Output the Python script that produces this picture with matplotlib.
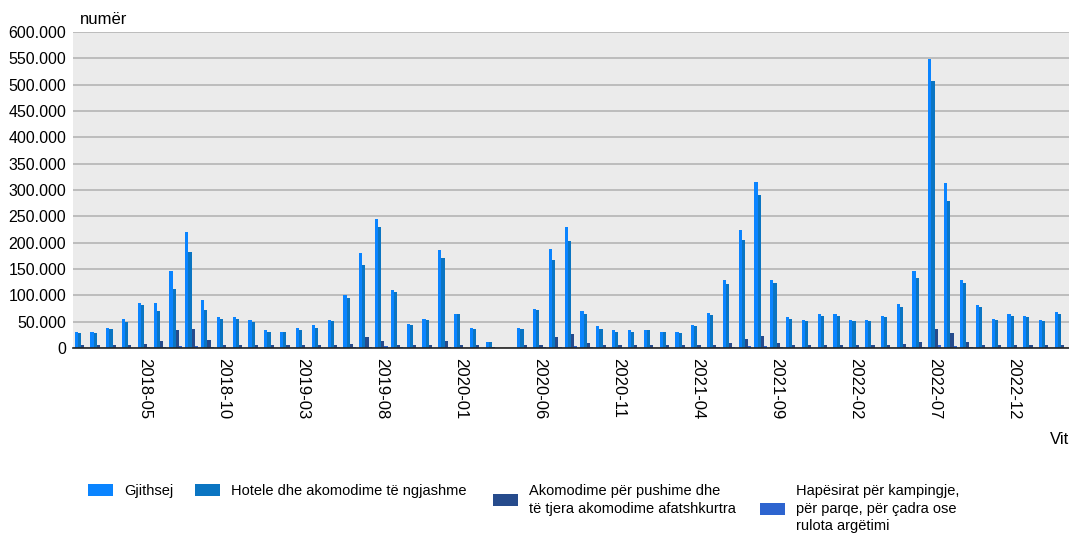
import numpy as np
import matplotlib.pyplot as plt
from matplotlib.patches import Patch
from matplotlib.ticker import FuncFormatter

# muajt 2018-01 .. 2023-03
months = [f"{y}-{m:02d}" for y in range(2018, 2024) for m in range(1, 13)][:63]

gjithsej = [31000, 31000, 38600, 55700, 85500, 85500, 145600, 220000, 90500, 58000, 58000, 53000,
            33500, 31000, 38600, 43700, 53000, 100000, 180000, 245000, 110800, 45600, 55700, 185500,
            64000, 38000, 10800, 0, 38000, 75000, 188000, 230000, 70900, 41000, 33500, 33500,
            33500, 31000, 31000, 43700, 65800, 128500, 223500, 315000, 130000, 58000, 53000, 64000,
            64000, 53000, 53000, 60800, 83000, 145600, 548000, 312700, 130000, 81000, 55700, 64000,
            60800, 53000, 68400]
hotele = [28500, 28500, 36000, 50000, 81000, 70000, 112700, 182000, 72800, 55000, 55700, 50000,
          31000, 31000, 33500, 38600, 50600, 95600, 157600, 230000, 105700, 43700, 53000, 170000,
          64000, 35500, 10800, 0, 35500, 72800, 168000, 202600, 64000, 36000, 31000, 31000,
          33500, 31000, 28500, 41000, 63300, 121000, 205700, 290000, 122800, 55700, 50600, 60800,
          60800, 50600, 50600, 58000, 78000, 133000, 507000, 280000, 122800, 78000, 53000, 60800,
          58000, 50600, 64000]
akomodime = [5000, 5000, 5000, 5000, 7600, 13000, 33500, 35500, 15800, 5000, 5000, 5000,
             5000, 5000, 5000, 5000, 5000, 8000, 21000, 13000, 5000, 5000, 5000, 13000,
             5000, 5000, 2000, 0, 5000, 6000, 21000, 26600, 9000, 5000, 5000, 5000,
             5000, 5000, 5000, 5000, 5000, 9000, 18000, 23000, 9000, 5000, 5000, 5000,
             5000, 5000, 5000, 5000, 7000, 10800, 35500, 28500, 10800, 5000, 5000, 5000,
             5000, 5000, 5000]
kampingje = [800, 800, 800, 800, 1200, 2000, 3000, 3500, 1500, 800, 800, 800,
             800, 800, 800, 800, 1000, 1500, 2500, 3000, 1200, 800, 800, 1000,
             800, 800, 300, 0, 800, 1200, 2500, 3000, 1200, 800, 800, 800,
             800, 800, 800, 800, 1000, 1800, 3000, 3500, 1500, 800, 800, 800,
             800, 800, 800, 800, 1200, 2000, 5000, 4000, 1500, 800, 800, 800,
             800, 800, 800]

series = [gjithsej, hotele, akomodime, kampingje]
labels = ["Gjithsej", "Hotele dhe akomodime të ngjashme",
          "Akomodime për pushime dhe\ntë tjera akomodime afatshkurtra",
          "Hapësirat për kampingje,\npër parqe, për çadra ose\nrulota argëtimi"]
colors = ["#0A84FF", "#0B75C2", "#264B8C", "#2D64CF"]

plt.rcParams['font.family'] = ['Liberation Sans', 'DejaVu Sans']

fig = plt.figure(figsize=(10.69, 5.35), dpi=100)
ax = fig.add_axes([73 / 1069, 1 - 348 / 535, 1 - 73 / 1069, 316 / 535])
ax.set_facecolor("#EBEBEB")

x = np.arange(len(months))
w = 0.2
for i, (vals, c) in enumerate(zip(series, colors)):
    ax.bar(x + (i - 1.5) * w, vals, width=w, color=c, linewidth=0, zorder=3)

ax.set_xlim(-0.5, len(months) - 0.5)
ax.set_ylim(0, 600000)
ax.set_yticks(np.arange(0, 600001, 50000))
ax.yaxis.set_major_formatter(FuncFormatter(lambda v, p: f"{v:,.0f}".replace(",", ".")))
ax.grid(axis="y", color="#B4B4B4", linewidth=1.2, zorder=1)
ax.tick_params(axis="y", length=0, labelsize=11.5, pad=5)
ax.tick_params(axis="x", length=0, labelsize=12, pad=7)

tick_idx = list(range(4, len(months), 5))
ax.set_xticks(tick_idx)
ax.set_xticklabels([months[i] for i in tick_idx], rotation=270, va="top", ha="center")

for s in ["top", "right", "left"]:
    ax.spines[s].set_visible(False)
ax.spines["bottom"].set_color("#222222")
ax.spines["bottom"].set_linewidth(1.2)
ax.spines["bottom"].set_zorder(4)

fig.text(80 / 1069, 1 - 20 / 535, "numër", fontsize=12, va="center", ha="left")
fig.text(1050 / 1069, 1 - 440 / 535, "Vit", fontsize=12, va="center", ha="left")

# legjenda: nje kuti per secilen seri, te vendosura ne pozicionet e origjinalit
leg_x = [88, 195, 493, 760]
for lx, lab, c in zip(leg_x, labels, colors):
    leg = fig.legend([Patch(facecolor=c, edgecolor="none")], [lab], loc="upper left",
                     bbox_to_anchor=(lx / 1069, 1 - 484 / 535), frameon=False,
                     fontsize=10.5, handlelength=1.7, handleheight=0.9,
                     handletextpad=0.8, borderpad=0, borderaxespad=0)
    for t in leg.get_texts():
        t.set_linespacing(1.32)

fig.savefig("out.png", dpi=100)
